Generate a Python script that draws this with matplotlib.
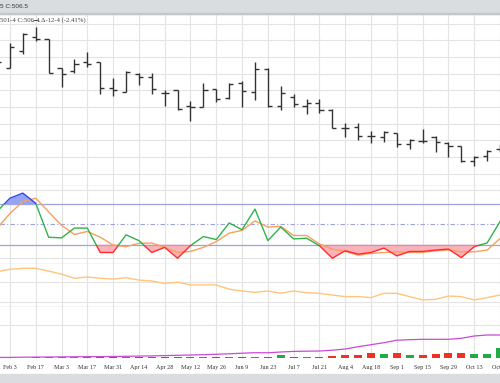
#
# weekly futures chart: OHLC bars, stochastics, indicator, volume / OI
#
import numpy as np
import matplotlib.pyplot as plt
from matplotlib.patches import Rectangle

# week index, 0 = Feb 3 (one bar before it is partly shown)
weeks = list(range(-1, 39))

opens = [554.6, 553.4, 563.6, 572.0, 570.8, 553.4, 551.6, 557.0, 557.0, 541.4,
         539.0, 549.8, 548.0, 538.4, 540.2, 530.6, 530.0, 540.8, 535.4, 544.4,
         539.0, 552.8, 530.6, 536.0, 530.6, 532.4, 528.2, 517.4, 518.0, 512.6,
         512.0, 514.4, 507.8, 509.6, 512.0, 508.4, 506.6, 497.6, 500.6, 504.8]
highs = [561.2, 568.4, 574.4, 578.0, 570.8, 553.4, 558.8, 563.0, 557.0, 547.4,
         551.6, 550.4, 550.4, 540.2, 540.2, 533.6, 544.4, 540.8, 544.4, 545.6,
         557.0, 553.4, 542.6, 537.8, 534.8, 534.8, 528.8, 520.4, 520.4, 515.6,
         515.6, 514.4, 510.8, 516.8, 512.6, 509.0, 506.6, 500.6, 504.2, 508.0]
lows = [552.2, 553.4, 561.8, 569.6, 550.4, 542.0, 550.4, 554.0, 537.8, 536.6,
        539.0, 543.2, 537.8, 530.6, 528.2, 521.6, 530.0, 533.0, 534.8, 530.0,
        534.2, 530.0, 528.2, 530.0, 525.8, 526.4, 517.4, 512.0, 510.2, 508.4,
        509.0, 506.0, 504.8, 508.4, 503.0, 500.0, 497.0, 494.6, 497.6, 503.0]
closes = [557.0, 566.0, 573.8, 570.8, 550.4, 549.8, 555.8, 555.8, 541.4, 540.2,
          551.0, 548.0, 540.8, 538.4, 528.8, 530.0, 540.2, 534.8, 543.8, 539.6,
          552.8, 530.6, 538.4, 531.8, 532.4, 528.2, 517.4, 517.4, 512.6, 512.6,
          515.0, 507.8, 510.2, 509.6, 509.0, 506.6, 497.6, 500.0, 503.6, 506.5]

# stochastics %K and %D
stoch_k = [69, 88.5, 96, 81, 31, 30, 44.5, 44.5, 8.5, 8.5,
           34.5, 26, 8.5, 16, 0, 18.5, 32, 27.5, 52, 42,
           72.5, 26, 46, 28.5, 29.5, 18.5, 0, 11, 6, 8.5,
           15, 3.5, 10, 10, 12, 13.5, 1, 17, 22.5, 54]
stoch_d = [44, 66, 83.5, 88.5, 68.5, 48.5, 35, 39.5, 31, 19.5,
           17, 22, 22.5, 16, 8.5, 10, 16, 24.5, 37, 41,
           55, 46, 47, 33.5, 33.5, 21, 13.5, 10, 4.5, 7,
           8.5, 9.5, 8.5, 8.5, 11, 12, 9.5, 9.5, 12, 29]

# third panel indicator
indic = [25.3, 26.5, 27.0, 27.0, 25.6, 24.0, 21.9, 22.6, 21.9, 21.5,
         22.2, 21.0, 20.5, 19.3, 19.9, 18.5, 18.5, 18.5, 16.3, 15.4,
         14.7, 15.4, 14.2, 15.4, 14.5, 14.2, 13.3, 12.5, 12.5, 12.0,
         14.2, 14.2, 12.5, 10.8, 11.1, 12.8, 12.5, 10.8, 12.0, 13.3]

# volume and open interest
volume = [0.2, 0.2, 0.2, 0.3, 0.4, 0.8, 0.6, 0.7, 0.8, 0.7,
          0.8, 0.7, 0.9, 1.0, 1.0, 1.1, 1.0, 1.1, 1.1, 1.2,
          1.0, 1.0, 2.7, 1.0, 1.0, 1.0, 1.7, 2.4, 3.0, 4.4,
          3.3, 5.0, 2.7, 2.7, 3.7, 4.7, 5.0, 4.0, 3.7, 10.0]
open_int = [0.2, 0.3, 0.5, 0.6, 0.7, 0.8, 0.9, 1.0, 1.1, 1.2,
            1.4, 1.6, 1.8, 2.1, 2.4, 2.7, 3.0, 3.4, 3.9, 4.5,
            5.0, 4.9, 5.7, 6.3, 6.5, 6.7, 7.5, 8.7, 11.0, 13.0,
            15.0, 17.5, 18.0, 18.4, 18.4, 18.4, 19.4, 21.7, 22.7, 22.7]

tick_weeks = list(range(0, 39, 2))
tick_labels = ["Feb 3", "Feb 17", "Mar 3", "Mar 17", "Mar 31", "Apr 14", "Apr 28",
               "May 12", "May 26", "Jun 9", "Jun 23", "Jul 7", "Jul 21", "Aug 4",
               "Aug 18", "Sep 1", "Sep 15", "Sep 29", "Oct 13", "Oct 27"]

x = np.array(weeks)
K = np.array(stoch_k)
D = np.array(stoch_d)

H = 383.0
grid_c = "#e3e3e3"
border_c = "#b4b4b4"
serif = "Liberation Serif"

fig = plt.figure(figsize=(5, 3.83), dpi=100)

# gray bands top and bottom
fig.patches.append(Rectangle((0, 1 - 14 / H), 1, 14 / H, transform=fig.transFigure,
                             color="#dadde0", zorder=0))
fig.patches.append(Rectangle((0, 1 - 14 / H), 1, 1.2 / H, transform=fig.transFigure,
                             color="#c3c7ca", zorder=1))
fig.patches.append(Rectangle((0, 0), 1, 9 / H, transform=fig.transFigure,
                             color="#dadde0", zorder=0))
fig.text(0.0, 1 - 6.5 / H, "5 C:506.5", fontsize=4.6, family="Liberation Sans",
         color="#333333", va="center", ha="left")


def panel(top, bottom):
  ax = fig.add_axes([0, 1 - bottom / H, 1, (bottom - top) / H])
  ax.set_xlim(-0.77, 37.84)
  for s in ax.spines.values():
    s.set_visible(False)
  ax.spines["bottom"].set_visible(True)
  ax.spines["bottom"].set_color(border_c)
  ax.spines["bottom"].set_linewidth(0.9)
  ax.set_xticks(tick_weeks)
  ax.tick_params(length=0, labelbottom=False, labelleft=False)
  ax.set_yticks([])
  for t in tick_weeks:
    ax.axvline(t, color=grid_c, lw=0.8, zorder=0)
  return ax


#
# price panel
#
ax1 = panel(14, 186)
ax1.set_ylim(482.6, 585.8)
for lvl in range(490, 590, 10):
  ax1.axhline(lvl, color=grid_c, lw=0.8, zorder=0)
ax1.vlines(x, lows, highs, color="#333333", lw=1.0)
ax1.hlines(opens, x - 0.32, x, color="#333333", lw=1.0)
ax1.hlines(closes, x, x + 0.32, color="#333333", lw=1.0)
top_i = int(np.argmax(highs))
ax1.annotate(r"$\frown$", xy=(x[top_i], highs[top_i]), xytext=(0, 1.5),
             textcoords="offset points", ha="center", va="bottom",
             fontsize=7, color="#333333")
ax1.text(0.0, 1 - 5.8 / 172, "501-4 C:506-4 \u0394-12-4 (-2.41%)", transform=ax1.transAxes,
         fontsize=4.9, family=serif, color="#444444", va="center", ha="left")

#
# stochastics panel
#
ax2 = panel(186, 264)
ax2.set_ylim(-8.5, 106.5)
ax2.axhline(0, color=grid_c, lw=0.8, zorder=0)
ax2.axhline(100, color=grid_c, lw=0.8, zorder=0)
ax2.axhline(80, color="#9ea2dd", lw=0.9)
ax2.axhline(20, color="#9ea2dd", lw=0.9)
ax2.axhline(50, color="#9ea2dd", lw=0.8, ls=(0, (4, 2, 1, 2)))
ax2.fill_between(x, K, 80, where=K >= 80, interpolate=True, color="#97a3f5", lw=0)
ax2.fill_between(x, K, 20, where=K <= 20, interpolate=True, color="#ffb1b8", lw=0)
ax2.plot(x, D, color="#f7a060", lw=1.0)
# %K: green in the middle, blue above 80, red below 20
for lo, hi, c in [(20, 80, "#2fb44a"), (80, 200, "#3344ee"), (-50, 20, "#ff2b2b")]:
  ln, = ax2.plot(x, K, color=c, lw=1.0)
  ln.set_clip_path(Rectangle((-5, lo), 50, hi - lo, transform=ax2.transData))

#
# indicator panel
#
ax3 = panel(264, 307)
ax3.set_ylim(7.18, 29.23)
ax3.axhline(10, color=grid_c, lw=0.8, zorder=0)
ax3.axhline(20, color=grid_c, lw=0.8, zorder=0)
ax3.plot(x, indic, color="#ffc57d", lw=1.0)

#
# volume / open interest panel
#
ax4 = panel(307, 359)
ax4.spines["bottom"].set_visible(False)
ax4.set_ylim(-1.3, 50.7)
ax4.axhline(32.7, color=grid_c, lw=0.8, zorder=0)
vol_colors = ["#22aa44" if c > o else "#ee3322" for o, c in zip(opens, closes)]
ax4.bar(x, volume, width=0.62, color=vol_colors, lw=0)
ax4.plot(x, open_int, color="#c94ad6", lw=0.9)
ax4.tick_params(labelbottom=True, pad=4.2)
ax4.set_xticklabels(tick_labels, fontsize=4.4, family=serif, color="#333333")

plt.savefig("out.png", dpi=100)
